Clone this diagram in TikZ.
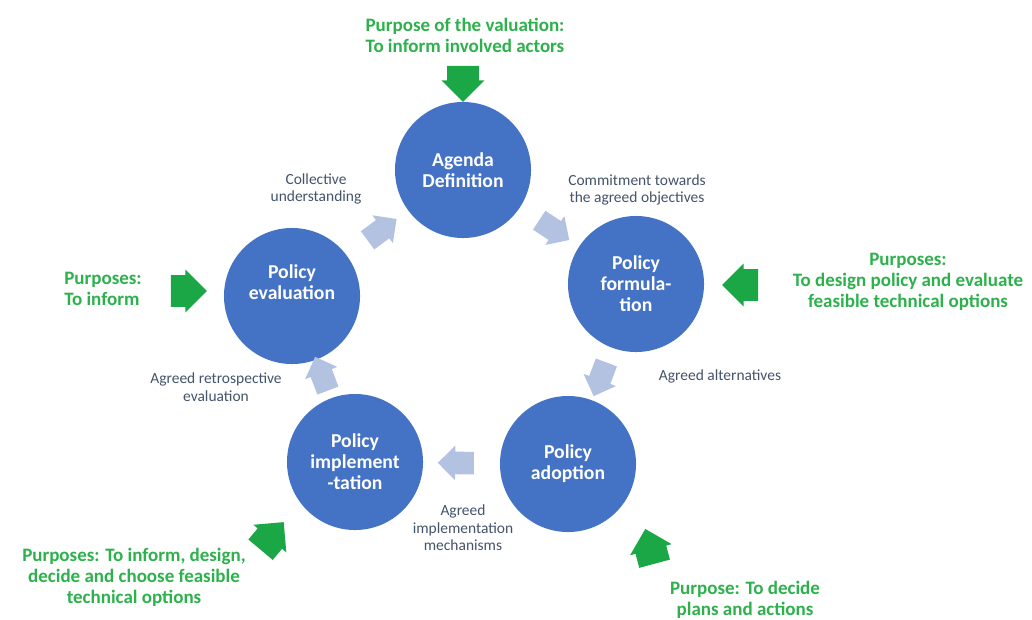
\documentclass[tikz,border=0pt]{standalone}
\usepackage{fontspec}
\setmainfont{Carlito}
\usepackage{tikz}
\usetikzlibrary{shapes,arrows}
\definecolor{stageblue}{HTML}{4472C4}
\definecolor{flowgrey}{HTML}{B4C2E2}
\definecolor{labelgrey}{HTML}{44546A}
\definecolor{pgreen}{HTML}{2DB14C}
\definecolor{pgreenarrow}{HTML}{1CA747}
\tikzstyle{stage} = [circle, fill=stageblue, text=white, minimum size=3.4cm, inner sep=0pt, align=center, font=\bfseries\fontsize{14}{15}\selectfont]
\tikzstyle{flow} = [single arrow, fill=flowgrey, minimum height=0.9cm, inner xsep=0pt, inner ysep=0.275cm, single arrow head extend=0.15cm, sloped, allow upside down]
\tikzstyle{purposearrow} = [single arrow, fill=pgreenarrow, minimum height=0.9cm, inner xsep=0pt, inner ysep=0.39cm, single arrow head extend=0.14cm]
\tikzstyle{purpose} = [text=pgreen, align=center, font=\bfseries\fontsize{13.5}{15}\selectfont]
\tikzstyle{outcome} = [text=labelgrey, align=center, font=\fontsize{11}{12.5}\selectfont]

\begin{document}
\begin{tikzpicture}[x=0.025cm, y=-0.025cm]
    \fill[white] (0,0) rectangle (1032,619);
    \useasboundingbox (0,0) rectangle (1032,619);
    % stages of the cycle
    \node[stage] at (463, 170) (agenda) {Agenda\\Definition};
    \node[stage] at (636, 284) (formulation) {Policy\\formula-\\tion};
    \node[stage] at (568, 464) (adoption) {Policy\\adoption};
    \node[stage] at (355, 462) (implementation) {Policy\\implement\\-tation};
    \node[stage] at (292, 296) (evaluation) {Policy\\evaluation\\\strut};
    % flows between stages
    \path (evaluation) -- node[flow] (flowagenda) {} (agenda);
    \path (agenda) -- node[flow] (flowformulation) {} (formulation);
    \path (formulation) -- node[flow] (flowadoption) {} (adoption);
    \path (adoption) -- node[flow] (flowimplementation) {} (implementation);
    \path (implementation) -- node[flow] (flowevaluation) {} (evaluation);
    % outcomes
    \node[outcome] at (316, 189) (collective) {Collective\\understanding};
    \node[outcome] at (637, 190) (commitment) {Commitment towards\\the agreed objectives};
    \node[outcome] at (720, 376) (alternatives) {Agreed alternatives};
    \node[outcome] at (463, 528) (mechanisms) {Agreed\\implementation\\mechanisms};
    \node[outcome] at (216, 387) (retrospective) {Agreed retrospective\\evaluation};
    % purposes
    \node[purpose] at (465, 35) (ppagenda) {Purpose of the valuation:\\To inform involved actors};
    \node[purposearrow, rotate=-90] at (463, 76) (inagenda) {};
    \node[purpose] at (908, 282) (ppformulation) {Purposes:\\To design policy and evaluate\\feasible technical options};
    \node[purposearrow, rotate=180] at (748, 285) (informulation) {};
    \node[purpose, align=left] at (103, 289) (ppevaluation) {Purposes:\\To inform};
    \node[purposearrow] at (181, 291) (inevaluation) {};
    \node[purpose] at (134, 577) (ppimplementation) {Purposes: To inform, design,\\decide and choose feasible\\technical options};
    \node[purposearrow, rotate=50] at (267, 542) (inimplementation) {};
    \node[purpose] at (745, 600) (ppadoption) {Purpose: To decide\\plans and actions};
    \node[purposearrow, rotate=105] at (652, 554) (inadoption) {};
\end{tikzpicture}
\end{document}
